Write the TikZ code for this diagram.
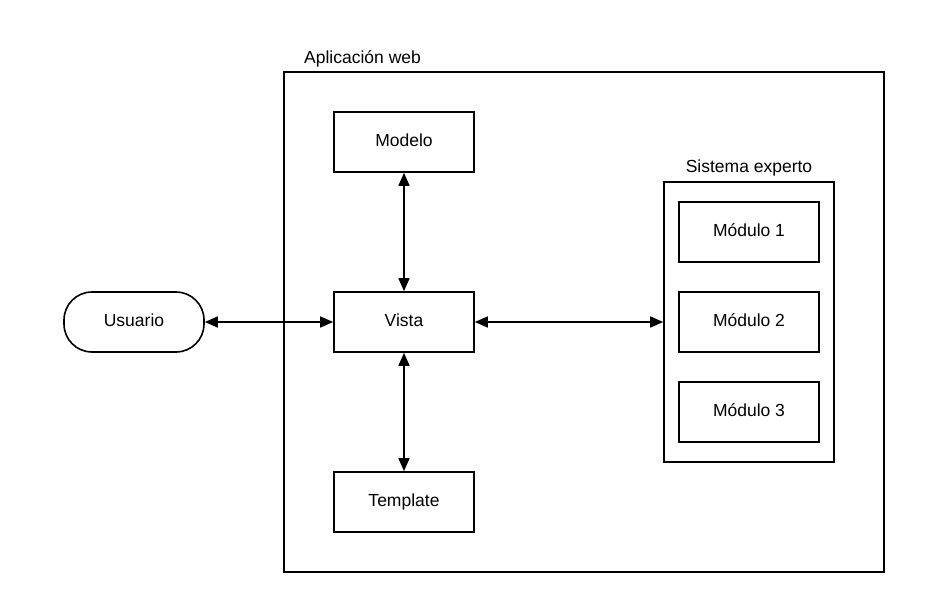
\documentclass[tikz,border=0pt]{standalone}
\usepackage{fontspec}
\setmainfont{Liberation Sans}
\usetikzlibrary{arrows.meta}
\begin{document}
\begin{tikzpicture}[x=1pt,y=-1pt,
  every node/.style={font=\fontsize{17.5}{20}\selectfont, inner sep=0pt},
  box/.style={draw, line width=1.6pt, minimum width=140pt, minimum height=60pt, text height=13pt, text depth=4.4pt},
  frame/.style={draw, line width=1.6pt},
  link/.style={line width=1.6pt, {Triangle[length=13pt,width=11pt]}-{Triangle[length=13pt,width=11pt]}},
  lbl/.style={}]
\useasboundingbox (0,0) rectangle (927,607);
\node[frame, minimum width=600pt, minimum height=500pt] (app) at (584,322) {};
\node[lbl, anchor=west] (applbl) at (304,59) {Aplicación web};
\node[box] (modelo) at (404,142) {Modelo};
\node[box] (vista) at (404,322) {Vista};
\node[box] (template) at (404,502) {Template};
\node[box, rounded corners=28pt] (usuario) at (134,322) {Usuario};
\node[frame, minimum width=170pt, minimum height=280pt] (sis) at (749,322) {};
\node[lbl] (sislbl) at (749,168) {Sistema experto};
\node[box] (m1) at (749,232) {Módulo 1};
\node[box] (m2) at (749,322) {Módulo 2};
\node[box] (m3) at (749,412) {Módulo 3};
\draw[link] (usuario.east) -- (vista.west);
\draw[link] (vista.east) -- (sis.west);
\draw[link] (modelo.south) -- (vista.north);
\draw[link] (vista.south) -- (template.north);
\end{tikzpicture}
\end{document}
